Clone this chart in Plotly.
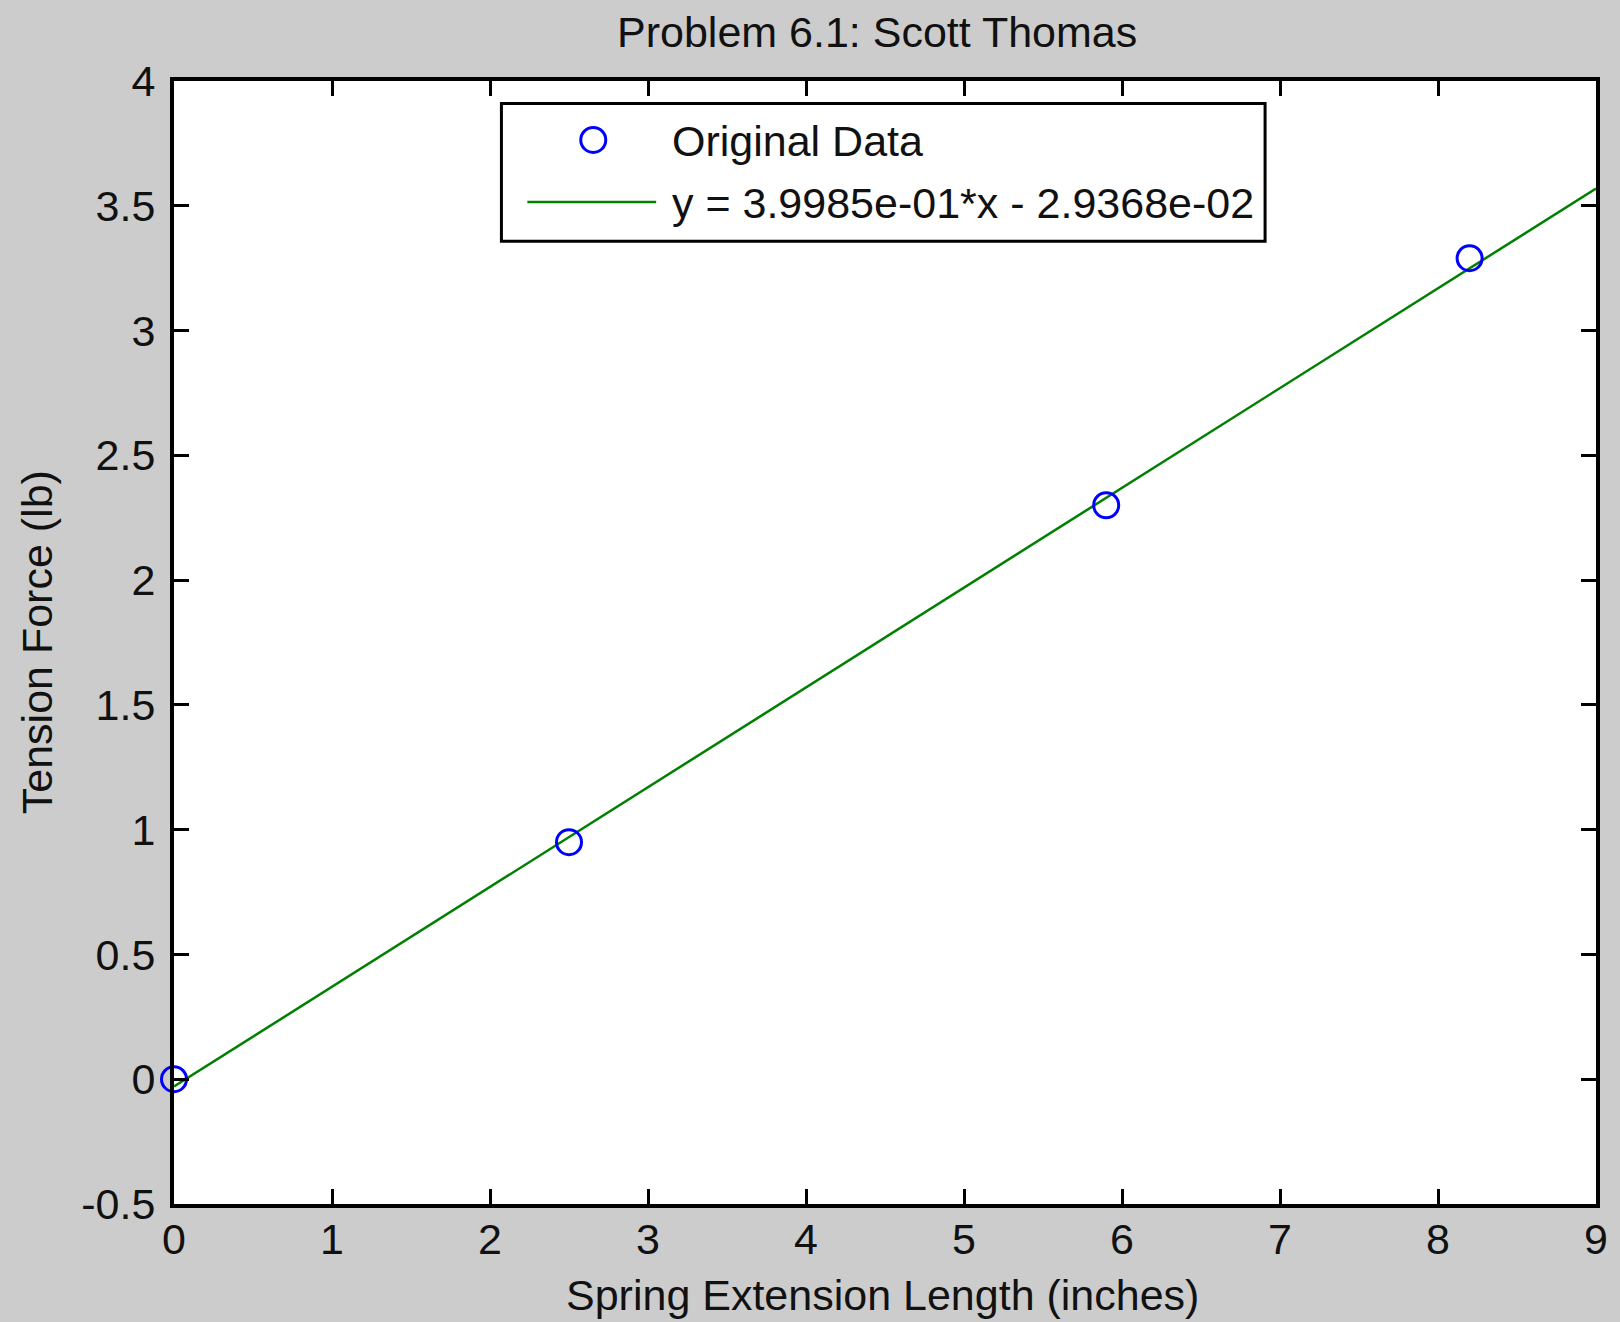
import plotly.graph_objects as go

# ---- data ----
x_data = [0.0, 2.5, 5.9, 8.2]
y_data = [0.0, 0.95, 2.3, 3.29]
fit_slope = 3.9985e-01
fit_intercept = -2.9368e-02
fit_x = [0.0, 9.0]
fit_y = [fit_slope * v + fit_intercept for v in fit_x]

x_tickvals = [0, 1, 2, 3, 4, 5, 6, 7, 8, 9]
x_ticktext = ["0", "1", "2", "3", "4", "5", "6", "7", "8", "9"]
y_tickvals = [-0.5, 0, 0.5, 1, 1.5, 2, 2.5, 3, 3.5, 4]
y_ticktext = ["-0.5", "0", "0.5", "1", "1.5", "2", "2.5", "3", "3.5", "4"]

title_text = "Problem 6.1: Scott Thomas"
xlabel = "Spring Extension Length (inches)"
ylabel = "Tension Force (lb)"
legend_labels = ["Original Data", "y = 3.9985e-01*x - 2.9368e-02"]

# ---- layout geometry (pixels) ----
W, H = 1620, 1322
L, R, T, B = 174, 1598.5, 80.5, 1204.5
FONT = "Liberation Sans, Arial, sans-serif"
FS = 43


def px(xp):
    return (xp - L) / (R - L)


def py(yp):
    return (B - yp) / (B - T)


fig = go.Figure()
fig.add_trace(go.Scatter(
    x=fit_x, y=fit_y, mode="lines",
    line=dict(color="#008000", width=2.5),
    name=legend_labels[1], showlegend=False, cliponaxis=True,
))
fig.add_trace(go.Scatter(
    x=x_data, y=y_data, mode="markers",
    marker=dict(symbol="circle-open", size=25, color="#0000FF",
                line=dict(width=3, color="#0000FF")),
    name=legend_labels[0], showlegend=False, cliponaxis=False,
))

axis_common = dict(
    showgrid=False, zeroline=False, showline=True, linecolor="black",
    linewidth=4, mirror="ticks", ticks="inside", ticklen=15, tickwidth=3,
    tickcolor="black", tickfont=dict(family=FONT, size=FS, color="#111111"),
)

fig.update_layout(
    width=W, height=H,
    margin=dict(l=L, r=W - R, t=T, b=H - B, pad=0),
    paper_bgcolor="#CCCCCC", plot_bgcolor="white",
    showlegend=False,
    xaxis=dict(range=[0, 9], tickmode="array", tickvals=x_tickvals,
               ticktext=x_ticktext, ticklabelstandoff=-6, **axis_common),
    yaxis=dict(range=[-0.5, 4], tickmode="array", tickvals=y_tickvals,
               ticktext=y_ticktext, ticklabelstandoff=6, **axis_common),
)

# title and axis labels
fig.add_annotation(text=title_text, xref="paper", yref="paper",
                   x=px(878), y=py(31), xanchor="center", yanchor="middle",
                   showarrow=False, font=dict(family=FONT, size=FS, color="#111111"))
fig.add_annotation(text=xlabel, xref="paper", yref="paper",
                   x=px(884), y=py(1296), xanchor="center", yanchor="middle",
                   showarrow=False, font=dict(family=FONT, size=FS, color="#111111"))
fig.add_annotation(text=ylabel, xref="paper", yref="paper",
                   x=px(37), y=py(642), xanchor="center", yanchor="middle",
                   textangle=-90, showarrow=False,
                   font=dict(family=FONT, size=FS, color="#111111"))

# custom legend box
fig.add_shape(type="rect", xref="paper", yref="paper",
              x0=px(502), x1=px(1267), y0=py(241), y1=py(103),
              line=dict(color="black", width=3), fillcolor="white", layer="above")
fig.add_shape(type="circle", xref="paper", yref="paper",
              xsizemode="pixel", ysizemode="pixel",
              xanchor=px(594), yanchor=py(139.5),
              x0=-12.5, x1=12.5, y0=-12.5, y1=12.5,
              line=dict(color="#0000FF", width=3), layer="above")
fig.add_shape(type="line", xref="paper", yref="paper",
              x0=px(528), x1=px(657), y0=py(201.5), y1=py(201.5),
              line=dict(color="#008000", width=2.5), layer="above")
fig.add_annotation(text=legend_labels[0], xref="paper", yref="paper",
                   x=px(671), y=py(141), xanchor="left", yanchor="middle",
                   showarrow=False, font=dict(family=FONT, size=FS, color="#111111"))
fig.add_annotation(text=legend_labels[1], xref="paper", yref="paper",
                   x=px(671), y=py(203), xanchor="left", yanchor="middle",
                   showarrow=False, font=dict(family=FONT, size=FS, color="#111111"))

fig.write_html(
    "out.html",
    config={"displayModeBar": False},
    post_script="document.body.style.margin='0';document.body.style.overflow='hidden';",
)
